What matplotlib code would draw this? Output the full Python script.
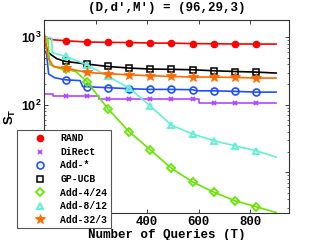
import matplotlib
matplotlib.use("Agg")
import matplotlib.pyplot as plt
from matplotlib.lines import Line2D
from matplotlib.ticker import LogLocator, NullFormatter

plt.rcParams["mathtext.fontset"] = "custom"
plt.rcParams["mathtext.rm"] = "Liberation Sans:bold"
plt.rcParams["mathtext.bf"] = "Liberation Sans:bold"
plt.rcParams["mathtext.it"] = "Liberation Sans:bold"

# ---------------- data ----------------
marker_T = [84, 166, 248, 330, 412, 494, 576, 658, 740, 822]

T_rand = [1, 35, 84, 166, 248, 330, 412, 494, 576, 658, 740, 822, 900]
v_rand = [1030, 918, 887, 850, 840, 835, 820, 818, 805, 800, 795, 793, 792]

T_direct = [1, 35, 84, 166, 215, 248, 330, 412, 494, 576, 600, 658, 740, 822, 900]
v_direct = [146, 133, 133, 133, 121, 121, 121, 121, 121, 121, 107, 107, 107, 107, 107]

T_addstar = [1, 10, 18, 42, 84, 140, 150, 166, 248, 330, 412, 494, 576, 595, 658, 740, 822, 900]
v_addstar = [650, 560, 285, 251, 234, 228, 186, 185, 179, 173, 169, 169, 167, 161, 161, 158, 154, 154]

T_gpucb = [1, 10, 15, 25, 50, 84, 166, 248, 330, 412, 494, 576, 658, 740, 822, 900]
v_gpucb = [1000, 700, 616, 560, 480, 438, 401, 369, 350, 338, 335, 330, 319, 311, 305, 295]

T_add4 = [1, 15, 20, 23, 60, 84, 125, 166, 248, 330, 412, 494, 576, 658, 740, 822, 900]
v_add4 = [1000, 918, 500, 392, 345, 336, 308, 221, 87, 40, 21.5, 11.5, 7.2, 5.1, 3.8, 3.1, 2.54]

T_add8 = [1, 25, 30, 32, 84, 166, 248, 330, 412, 494, 576, 658, 740, 822, 900]
v_add8 = [1000, 983, 960, 590, 520, 392, 264, 177, 96, 50, 37, 29.5, 24.7, 21, 16.8]

T_add32 = [1, 5, 15, 38, 84, 166, 248, 330, 412, 494, 576, 658, 740, 822, 900]
v_add32 = [1150, 950, 497, 366, 350, 301, 288, 278, 269, 263, 257, 257, 254, 249, 249]

labels = ["RAND", "DiRect", "Add-*", "GP-UCB", "Add-4/24", "Add-8/12", "Add-32/3"]
title = "(D,d′,M′) = (96,29,3)"
xlabel = "Number of Queries (T)"
ylabel = r"$\mathbf{S_T}$"
xticks = [0, 200, 400, 600, 800]

# ---------------- styles ----------------
c_rand = "#ff0000"
c_dir = "#b347ff"
c_star = "#1f4fff"
c_gp = "#000000"
c_add4 = "#66e600"
c_add8 = "#66f0d6"
c_add32 = "#ff6a00"

mono = ["Liberation Mono", "DejaVu Sans Mono"]

fig = plt.figure(figsize=(3.19, 2.40), dpi=100)
ax = fig.add_axes([44 / 319, 1 - 213 / 240, 245 / 319, 193 / 240])

series = [
    (T_rand, v_rand, c_rand, "o", dict(mfc=c_rand, ms=4.5), None),
    (T_direct, v_direct, c_dir, "x", dict(ms=3.5, mew=1.3), "steps-post"),
    (T_addstar, v_addstar, c_star, "o", dict(mfc="none", ms=5, mew=1.2), None),
    (T_gpucb, v_gpucb, c_gp, "s", dict(mfc="none", ms=4.5, mew=1.1), None),
    (T_add4, v_add4, c_add4, "D", dict(mfc="none", ms=4.5, mew=1.3), None),
    (T_add8, v_add8, c_add8, "^", dict(mfc="none", ms=5, mew=1.4), None),
    (T_add32, v_add32, c_add32, "*", dict(mfc=c_add32, ms=7, mew=0.6), None),
]

for T, v, col, mk, mkw, ds in series:
    idx = [i for i, t in enumerate(T) if t in marker_T]
    kw = dict(color=col, lw=1.2, marker=mk, markevery=idx, mec=col)
    kw.update(mkw)
    if ds:
        kw["drawstyle"] = ds
    ax.plot(T, v, **kw)

ax.set_yscale("log")
ax.set_xlim(0, 950)
ax.set_ylim(2.5, 1800)
ax.set_xticks(xticks)
ax.yaxis.set_major_locator(LogLocator(base=10, numticks=10))
ax.yaxis.set_minor_locator(LogLocator(base=10, subs=range(2, 10), numticks=20))
ax.yaxis.set_minor_formatter(NullFormatter())

ax.tick_params(which="both", direction="in", top=True, right=True, colors="#222222")
ax.tick_params(which="major", length=3, width=0.6, pad=2)
ax.tick_params(which="minor", length=1.5, width=0.5)
ax.tick_params(axis="x", labelsize=8.8, labelcolor="black")
ax.tick_params(axis="y", labelsize=9, labelcolor="black", labelfontfamily="Liberation Sans")
for lab in ax.get_xticklabels():
    lab.set_family(mono)
    lab.set_weight("bold")
for lab in ax.get_yticklabels():
    lab.set_weight("bold")

for sp in ax.spines.values():
    sp.set_linewidth(0.8)
    sp.set_color("#333333")

ax.set_xlabel(xlabel, fontsize=9, family=mono, weight="bold", labelpad=1)
ax.set_ylabel(ylabel, fontsize=9.5)
ax.yaxis.set_label_coords(-0.105, 0.5)

fig.text(0.522, 0.967, title, ha="center", va="center", fontsize=9,
         family=mono, weight="bold")

handles = []
for T, v, col, mk, mkw, ds in series:
    kw = dict(mfc=mkw.get("mfc", col), ms=mkw.get("ms", 4.5), mew=mkw.get("mew", 1.0))
    handles.append(Line2D([], [], linestyle="none", marker=mk, color=col, mec=col, **kw))

leg = ax.legend(handles, labels, loc="lower left",
                bbox_to_anchor=(17 / 319, 12 / 240), bbox_transform=fig.transFigure,
                prop=dict(family=mono, weight="bold", size=7.0),
                frameon=True, fancybox=False, framealpha=1, edgecolor="#555555",
                borderpad=0.32, labelspacing=0.37, handlelength=4.0,
                handletextpad=0.15, borderaxespad=0)
leg.get_frame().set_linewidth(0.8)
leg.set_zorder(10)

fig.savefig("out.png", dpi=100)
